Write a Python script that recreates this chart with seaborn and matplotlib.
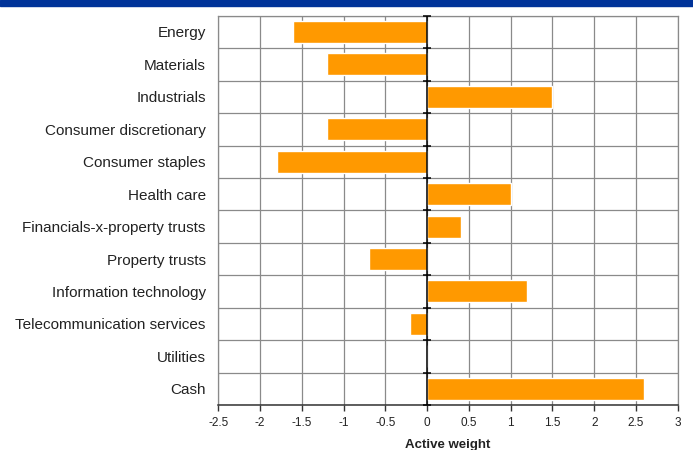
import matplotlib
matplotlib.use("Agg")
import matplotlib.pyplot as plt
import seaborn as sns
import numpy as np
import pandas as pd

sectors = ['Energy', 'Materials', 'Industrials', 'Consumer discretionary', 'Consumer staples',
           'Health care', 'Financials-x-property trusts', 'Property trusts',
           'Information technology', 'Telecommunication services', 'Utilities', 'Cash']
active_weight = [-1.6, -1.2, 1.5, -1.2, -1.8, 1.0, 0.4, -0.7, 1.2, -0.2, 0.0, 2.6]
xticks = [-2.5, -2, -1.5, -1, -0.5, 0, 0.5, 1, 1.5, 2, 2.5, 3]
xtick_labels = ['-2.5', '-2', '-1.5', '-1', '-0.5', '0', '0.5', '1', '1.5', '2', '2.5', '3']

df = pd.DataFrame({'sector': sectors, 'weight': active_weight})

sns.set_style('white')
plt.rcParams['font.family'] = ['Liberation Sans', 'DejaVu Sans']

fig = plt.figure(figsize=(6.93, 4.5), dpi=100)
# blue banner at the top (title is cut off in the source)
fig.patches.append(plt.Rectangle((0, 0.986), 1, 0.014, transform=fig.transFigure,
                                 color='#003399', zorder=0))
ax = fig.add_axes([0.315, 0.1, 0.663, 0.865])

sns.barplot(data=df, y='sector', x='weight', orient='h', color='#FF9900',
            saturation=1, width=0.68, ax=ax, zorder=3)

n = len(sectors)
ax.set_xlim(-2.5, 3)
ax.set_ylim(n - 0.5, -0.5)
ax.set_xticks(xticks)
ax.set_xticklabels(xtick_labels, fontsize=8.5, color='#222222')
ax.set_yticks(range(n))
ax.set_yticklabels(sectors, fontsize=11, color='#222222')
ax.tick_params(axis='y', length=0, pad=9)
ax.tick_params(axis='x', direction='out', length=4, width=1, color='#333333', bottom=True, pad=5)

# grid: verticals at each tick, horizontals between categories
for x in xticks:
    ax.axvline(x, color='#8a8a8a', lw=0.9, zorder=1)
for b in np.arange(-0.5, n, 1.0):
    ax.axhline(b, color='#8a8a8a', lw=0.9, zorder=1)

# zero line with small ticks at row boundaries
ax.axvline(0, color='black', lw=1.1, zorder=4)
ax.plot([0] * (n + 1), np.arange(-0.5, n, 1.0), ls='none', marker='_',
        ms=6, mew=1.1, color='black', zorder=4, clip_on=False)

for side in ['top', 'left', 'right']:
    ax.spines[side].set_color('#8a8a8a')
    ax.spines[side].set_linewidth(0.9)
ax.spines['bottom'].set_color('#333333')
ax.spines['bottom'].set_linewidth(1.1)

ax.set_ylabel('')
ax.set_xlabel('Active weight', fontsize=9.5, fontweight='bold', labelpad=7, color='#222222')

fig.savefig('out.png', dpi=100)
